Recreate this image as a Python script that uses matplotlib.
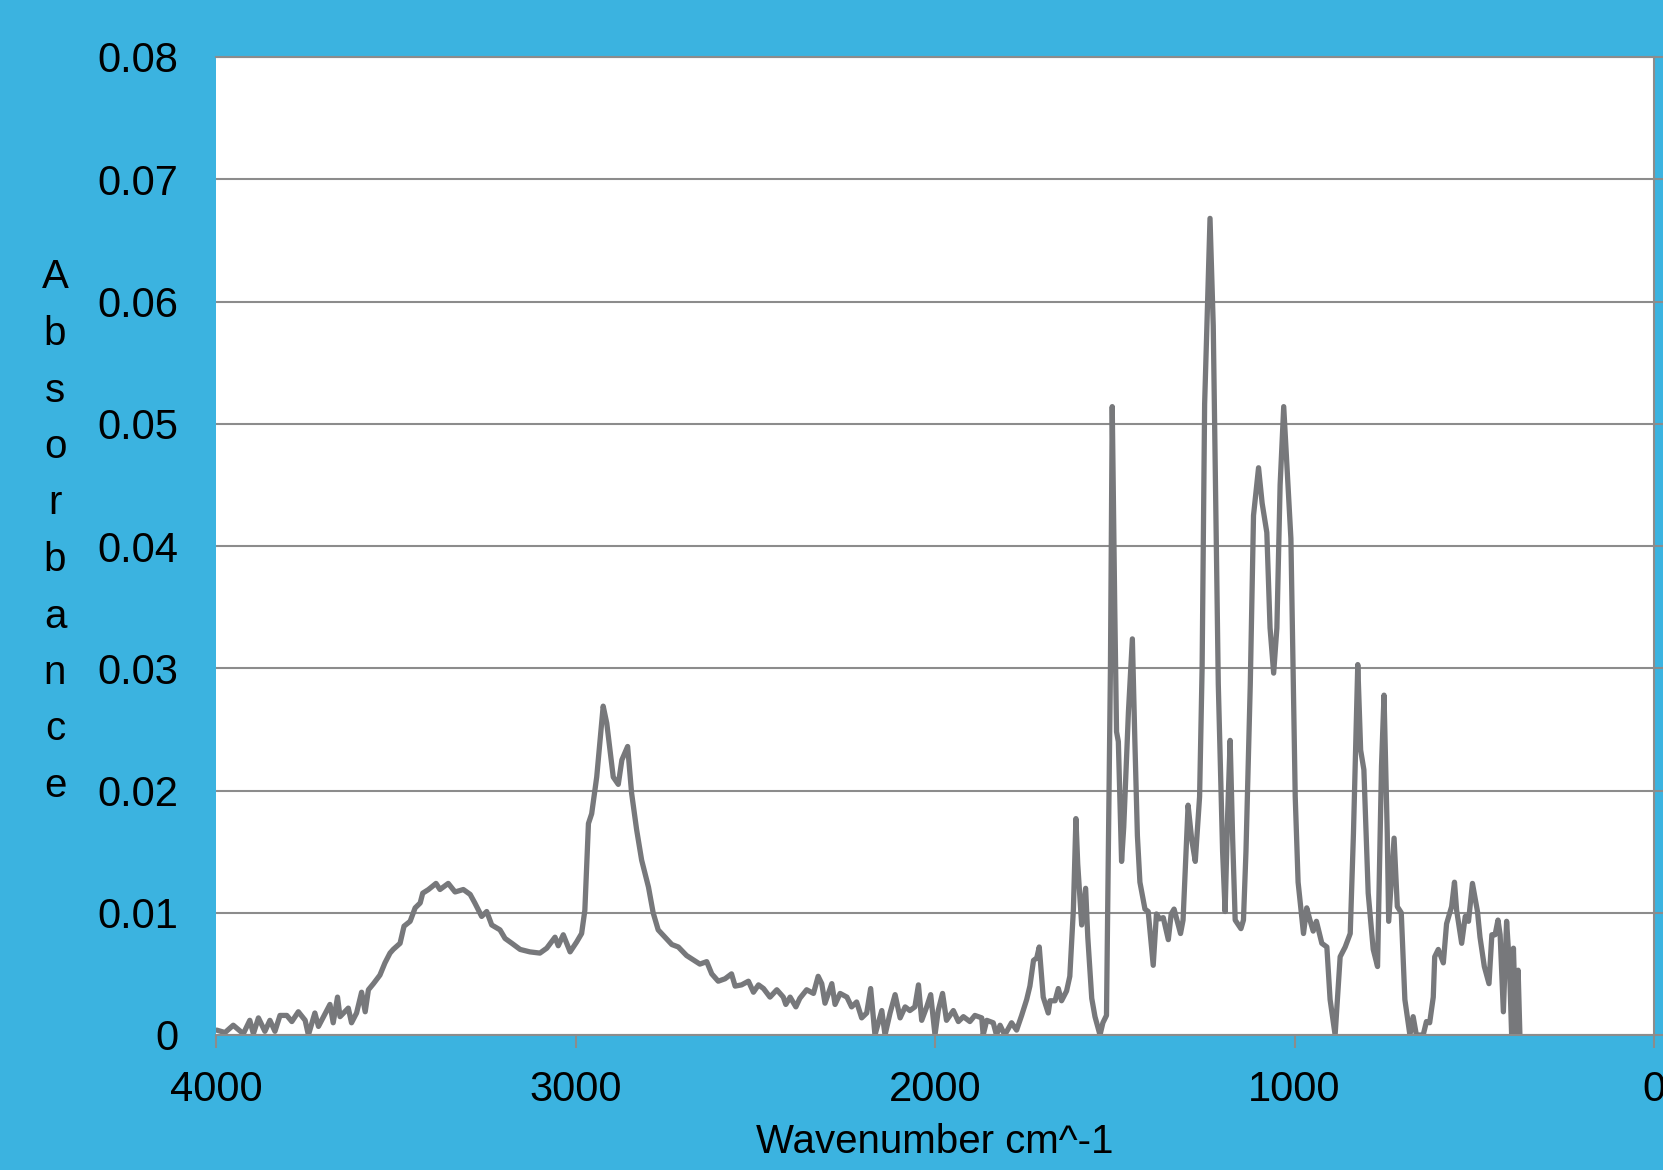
import numpy as np
import matplotlib.pyplot as plt

# espectro IR (numero de onda en cm^-1, absorbancia)
numero_onda = [
    3998, 3975, 3952, 3924, 3906, 3896, 3882, 3864, 3850, 3836, 3822, 3803, 3789, 3771,
    3752, 3743, 3725, 3715, 3683, 3674, 3662, 3655, 3632, 3623, 3609, 3595, 3585, 3576,
    3562, 3544, 3530, 3516, 3507, 3488, 3477, 3460, 3446, 3432, 3425, 3409, 3388, 3377,
    3354, 3335, 3312, 3293, 3280, 3261, 3247, 3233, 3210, 3196, 3177, 3154, 3127, 3099,
    3080, 3057, 3048, 3034, 3015, 2997, 2983, 2974, 2964, 2955, 2941, 2923, 2913, 2904,
    2895, 2881, 2871, 2855, 2844, 2830, 2816, 2797, 2784, 2770, 2751, 2732, 2714, 2691,
    2654, 2635, 2621, 2603, 2584, 2566, 2556, 2538, 2519, 2505, 2491, 2477, 2459, 2440,
    2422, 2415, 2403, 2387, 2376, 2357, 2338, 2325, 2315, 2306, 2287, 2278, 2264, 2245,
    2232, 2218, 2204, 2190, 2179, 2167, 2148, 2139, 2125, 2111, 2097, 2083, 2070, 2056,
    2046, 2037, 2023, 2012, 2000, 1991, 1979, 1968, 1949, 1935, 1921, 1903, 1889, 1870,
    1866, 1856, 1838, 1829, 1819, 1806, 1787, 1773, 1759, 1745, 1736, 1726, 1717, 1710,
    1699, 1685, 1680, 1666, 1657, 1648, 1634, 1625, 1615, 1608, 1603, 1592, 1581, 1575,
    1564, 1555, 1541, 1533, 1523, 1512, 1507, 1500, 1495, 1490, 1481, 1475, 1462, 1451,
    1444, 1437, 1430, 1416, 1407, 1393, 1384, 1375, 1365, 1351, 1343, 1335, 1317, 1310,
    1296, 1286, 1276, 1264, 1257, 1250, 1235, 1226, 1212, 1200, 1193, 1186, 1179, 1172,
    1165, 1149, 1142, 1135, 1123, 1114, 1100, 1090, 1077, 1068, 1058, 1049, 1040, 1030,
    1020, 1010, 998, 990, 975, 966, 958, 948, 939, 924, 910, 901, 887, 873,
    859, 845, 836, 824, 816, 807, 795, 781, 769, 758, 751, 742, 738, 723,
    714, 703, 693, 679, 670, 661, 642, 633, 624, 614, 610, 600, 586, 577,
    563, 555, 549, 535, 525, 516, 505, 491, 484, 472, 459, 451, 442, 434,
    428, 419, 410, 402, 396, 391, 384, 378, 373,
]
absorbancia = [
    0.0004, 0.0002, 0.0008, 0.0001, 0.0012, 0.0001, 0.0014, 0.0003, 0.0012, 0.0003, 0.0016, 0.0016, 0.0011, 0.0019,
    0.0012, 0.0, 0.0018, 0.0007, 0.0025, 0.0010, 0.0031, 0.0015, 0.0022, 0.0010, 0.0018, 0.0035, 0.0019, 0.0037,
    0.0042, 0.0049, 0.0059, 0.0067, 0.0070, 0.0075, 0.0089, 0.0093, 0.0104, 0.0108, 0.0116, 0.0119, 0.0124, 0.0119,
    0.0124, 0.0117, 0.0119, 0.0115, 0.0108, 0.0097, 0.0101, 0.0090, 0.0086, 0.0079, 0.0075, 0.0070, 0.0068, 0.0067,
    0.0071, 0.0080, 0.0073, 0.0082, 0.0068, 0.0076, 0.0083, 0.0102, 0.0173, 0.0181, 0.0211, 0.0269, 0.0255, 0.0233,
    0.0211, 0.0205, 0.0225, 0.0236, 0.0198, 0.0168, 0.0143, 0.0121, 0.0100, 0.0086, 0.0080, 0.0074, 0.0072, 0.0065,
    0.0058, 0.0060, 0.0050, 0.0044, 0.0046, 0.0050, 0.0040, 0.0041, 0.0044, 0.0035, 0.0041, 0.0038, 0.0031, 0.0037,
    0.0031, 0.0025, 0.0031, 0.0023, 0.0030, 0.0037, 0.0034, 0.0048, 0.0042, 0.0026, 0.0042, 0.0025, 0.0034, 0.0031,
    0.0023, 0.0027, 0.0014, 0.0018, 0.0038, 0.0, 0.0020, 0.0, 0.0018, 0.0033, 0.0014, 0.0023, 0.0020, 0.0023,
    0.0041, 0.0012, 0.0023, 0.0033, 0.0, 0.0020, 0.0034, 0.0012, 0.0020, 0.0011, 0.0015, 0.0011, 0.0016, 0.0014,
    0.0, 0.0012, 0.0010, 0.0, 0.0008, 0.0, 0.0010, 0.0004, 0.0016, 0.0029, 0.0040, 0.0061, 0.0063, 0.0072,
    0.0031, 0.0018, 0.0028, 0.0028, 0.0038, 0.0028, 0.0036, 0.0048, 0.0103, 0.0177, 0.0140, 0.0090, 0.0120, 0.0080,
    0.0030, 0.0015, 0.0, 0.0010, 0.0016, 0.0300, 0.0514, 0.0350, 0.0248, 0.0240, 0.0142, 0.0170, 0.0264, 0.0324,
    0.0240, 0.0163, 0.0125, 0.0103, 0.0101, 0.0057, 0.0099, 0.0095, 0.0096, 0.0078, 0.0099, 0.0103, 0.0083, 0.0094,
    0.0188, 0.0160, 0.0142, 0.0195, 0.0300, 0.0516, 0.0668, 0.0580, 0.0287, 0.0150, 0.0101, 0.0180, 0.0241, 0.0160,
    0.0094, 0.0087, 0.0094, 0.0150, 0.0287, 0.0425, 0.0464, 0.0435, 0.0411, 0.0333, 0.0296, 0.0333, 0.0450, 0.0514,
    0.0460, 0.0406, 0.0195, 0.0125, 0.0083, 0.0104, 0.0095, 0.0085, 0.0093, 0.0075, 0.0072, 0.0029, 0.0, 0.0064,
    0.0072, 0.0083, 0.0165, 0.0303, 0.0233, 0.0217, 0.0116, 0.0070, 0.0056, 0.0220, 0.0278, 0.0165, 0.0093, 0.0161,
    0.0105, 0.0100, 0.0029, 0.0, 0.0015, 0.0, 0.0, 0.0011, 0.0010, 0.0031, 0.0064, 0.0070, 0.0059, 0.0091,
    0.0105, 0.0125, 0.0102, 0.0075, 0.0097, 0.0093, 0.0124, 0.0101, 0.0080, 0.0056, 0.0042, 0.0082, 0.0082, 0.0094,
    0.0082, 0.0019, 0.0093, 0.0056, 0.0, 0.0071, 0.0, 0.0053, 0.0,
]

ticks_x = [4000, 3000, 2000, 1000, 0]
ticks_y = [0, 0.01, 0.02, 0.03, 0.04, 0.05, 0.06, 0.07, 0.08]
etiquetas_y = ['0', '0.01', '0.02', '0.03', '0.04', '0.05', '0.06', '0.07', '0.08']

plt.rcParams['font.family'] = ['Liberation Sans', 'DejaVu Sans']

azul = '#3bb3e0'
gris = '#8c8c8c'

fig = plt.figure(figsize=(16.63, 11.70), dpi=100, facecolor=azul)
ax = fig.add_axes([216 / 1663, 1 - 1035 / 1170, 1438 / 1663, 978 / 1170])
ax.set_facecolor('white')

ax.plot(numero_onda, absorbancia, color='#77787b', linewidth=3.8,
        solid_joinstyle='round', solid_capstyle='round')

ax.set_xlim(4000, 0)
ax.set_ylim(0, 0.08)
ax.set_xticks(ticks_x)
ax.set_xticklabels([str(t) for t in ticks_x])
ax.set_yticks(ticks_y)
ax.set_yticklabels(etiquetas_y)

ax.grid(axis='y', color=gris, linewidth=1.5)
ax.set_axisbelow(True)
ax.spines['left'].set_visible(False)
for lado in ['right', 'top', 'bottom']:
    ax.spines[lado].set_color(gris)
    ax.spines[lado].set_linewidth(1.5)

ax.tick_params(axis='y', left=False, right=True, labelleft=True, labelright=False,
               direction='out', length=7, width=1.5, color=gris, labelsize=30, pad=20)
ax.tick_params(axis='x', direction='out', length=9, width=1.5, color=gris,
               labelsize=30, pad=16)

fig.text(935 / 1663, 1 - 1153 / 1170, 'Wavenumber cm^-1', ha='center', va='baseline',
         fontsize=29)

for i, letra in enumerate('Absorbance'):
    fig.text(55 / 1663, 1 - (288.5 + i * 56.5) / 1170, letra, ha='center', va='baseline',
             fontsize=29)

fig.savefig('out.png', dpi=100, facecolor=azul)
